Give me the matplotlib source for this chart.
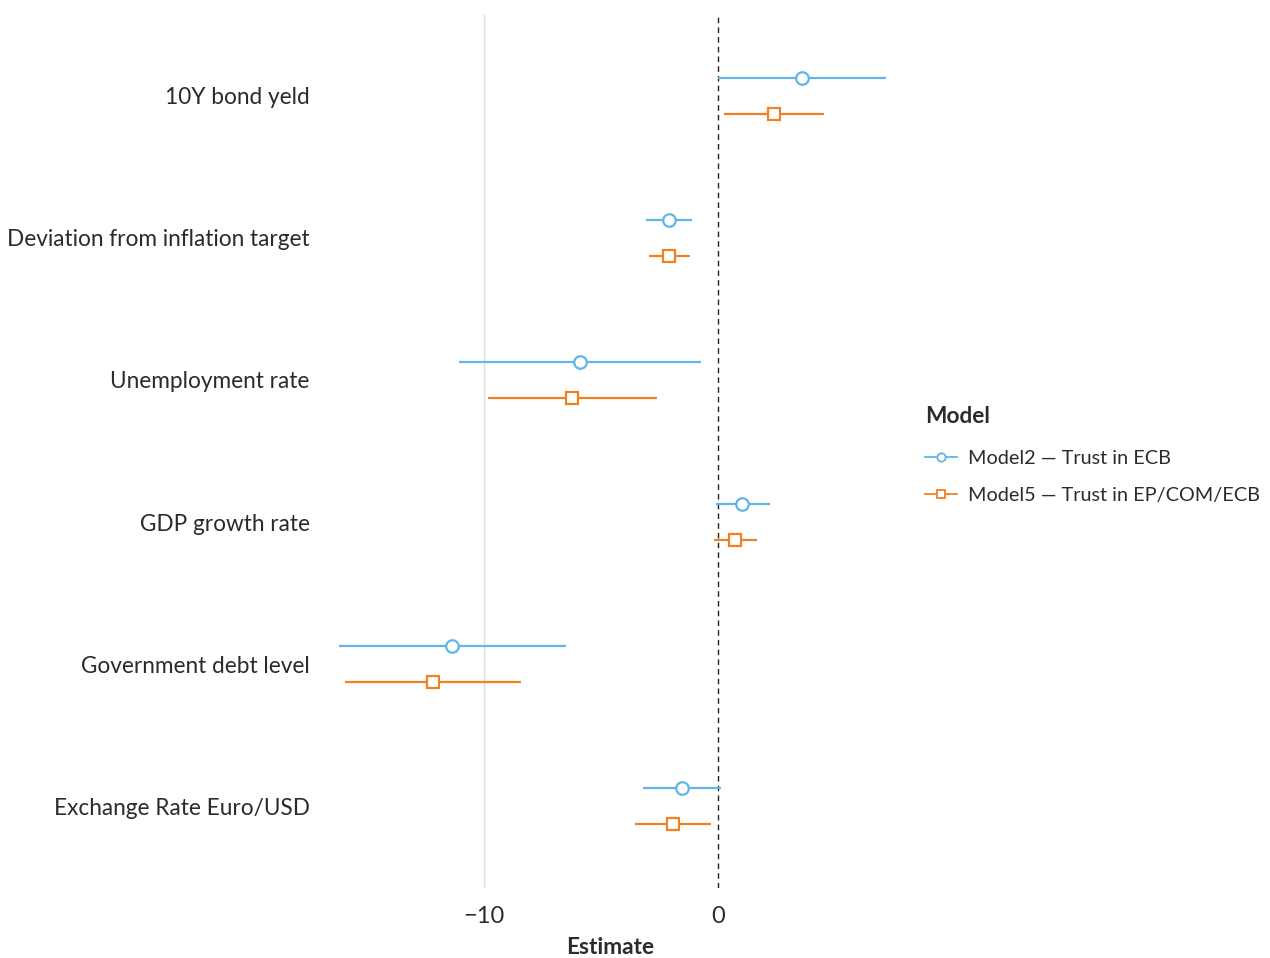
import matplotlib
matplotlib.use("Agg")
import matplotlib.pyplot as plt
from matplotlib.lines import Line2D

plt.rcParams['font.family'] = ['Lato', 'DejaVu Sans']

categories = ["10Y bond yeld", "Deviation from inflation target", "Unemployment rate",
              "GDP growth rate", "Government debt level", "Exchange Rate Euro/USD"]

model2_est = [3.59, -2.09, -5.90, 1.03, -11.37, -1.54]
model2_lo = [0.00, -3.08, -11.07, -0.09, -16.20, -3.21]
model2_hi = [7.18, -1.11, -0.73, 2.22, -6.50, 0.13]

model5_est = [2.39, -2.09, -6.24, 0.73, -12.18, -1.92]
model5_lo = [0.26, -2.95, -9.83, -0.17, -15.94, -3.55]
model5_hi = [4.53, -1.20, -2.61, 1.67, -8.42, -0.30]

series_labels = ["Model2 \u2014 Trust in ECB", "Model5 \u2014 Trust in EP/COM/ECB"]
blue = "#62B5E5"
orange = "#F28024"
text_color = "#2b2b2b"

fig = plt.figure(figsize=(12.7, 9.58), dpi=100)
ax = fig.add_axes([322 / 1270, 1 - 888 / 958, (898 - 322) / 1270, (888 - 14) / 958])

ax.axvline(-10, color="#dddddd", lw=1.0, zorder=0)
ax.axvline(0, color="#222222", lw=1.0, ls=(0, (4, 3)), zorder=1)

offset = 0.127
specs = [
    (model2_est, model2_lo, model2_hi, blue, "o", -offset),
    (model5_est, model5_lo, model5_hi, orange, "s", offset),
]
for est, lo, hi, col, mk, off in specs:
    for i in range(len(categories)):
        y = i + off
        ax.plot([lo[i], hi[i]], [y, y], color=col, lw=1.6, zorder=2, solid_capstyle="butt")
        ax.plot([est[i]], [y], marker=mk, ms=9 if mk == "o" else 8.5, mfc="white",
                mec=col, mew=1.6, ls="none", zorder=3)

ax.set_xlim(-16.92, 7.69)
ax.set_ylim(len(categories) - 1 + 0.577, -0.577)
ax.set_yticks(range(len(categories)))
ax.set_yticklabels(categories)
ax.set_xticks([-10, 0])
ax.set_xticklabels(["\u221210", "0"])
ax.tick_params(axis="y", length=0, pad=9, labelsize=16.3, labelcolor=text_color)
ax.tick_params(axis="x", length=0, pad=13, labelsize=17, labelcolor=text_color)
for s in ax.spines.values():
    s.set_visible(False)
ax.set_xlabel("Estimate", fontsize=16.3, fontweight="bold", color=text_color, labelpad=7.5)

# Legend: title drawn as its own text so the gap below it can be set freely
fig.text(925 / 1270, 1 - 416 / 958, "Model", fontsize=16.3, fontweight="bold",
         color=text_color, ha="left", va="center")
handles = [
    Line2D([], [], color=blue, lw=1.3, marker="o", ms=6, mfc="white", mec=blue, mew=1.3),
    Line2D([], [], color=orange, lw=1.3, marker="s", ms=6, mfc="white", mec=orange, mew=1.3),
]
leg = fig.legend(handles, series_labels, loc="upper left",
                 bbox_to_anchor=(907 / 1270, 1 - 432 / 958), frameon=False,
                 fontsize=14.3, handlelength=1.6,
                 handletextpad=0.55, labelspacing=1.0)
for t in leg.get_texts():
    t.set_color(text_color)

fig.savefig("out.png", dpi=100)
